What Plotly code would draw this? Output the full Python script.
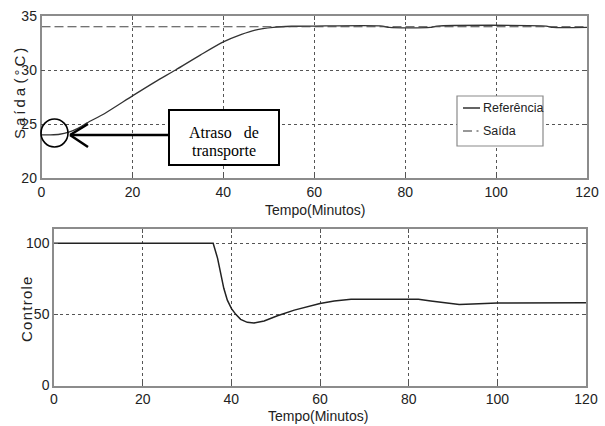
import plotly.graph_objects as go

# ---------------- data ----------------
tempo_sup = [0, 2, 4, 6, 8, 10, 14, 20, 25, 29.5, 35, 40, 44, 47, 51, 55, 60, 75, 76.5, 85.5, 87, 111, 112.5, 120]
curva_solida = [24.0, 24.0, 24.05, 24.25, 24.6, 25.1, 26.0, 27.6, 28.9, 30.0, 31.4, 32.6, 33.3, 33.7, 33.95,
                34.05, 34.07, 34.07, 33.94, 33.94, 34.07, 34.07, 33.94, 33.94]
tempo_trac = [0, 120]
curva_tracejada = [34, 34]

tempo_inf = [0, 35.9, 36.9, 37.6, 38.3, 39.1, 40, 41, 42.1, 43.6, 45.1, 47.4, 50.4, 54.2, 60, 63.2, 67,
             78.3, 82.2, 85, 88.8, 91.4, 94.4, 100, 120]
controle = [100, 100, 89.4, 77.7, 68.3, 60, 54.2, 50, 46.5, 44.4, 43.9, 45.3, 49, 53, 57.7, 59.4, 60.6,
            60.6, 60.6, 59.4, 57.7, 57.0, 57.3, 58.0, 58.2]

x_ticks = [0, 20, 40, 60, 80, 100, 120]
y_ticks_sup = [20, 25, 30, 35]
y_ticks_inf = [0, 50, 100]

nome_solida = "Referência"
nome_tracejada = "Saída"

# ---------------- figure ----------------
W, H = 605, 426
def px(x):
    return x / W
def py(y):
    return 1 - y / H

SANS = "Liberation Sans, Arial, sans-serif"
SERIF = "Liberation Serif, Times New Roman, serif"
TS = "\u2009"
HS = "\u200a"

fig = go.Figure()
fig.add_trace(go.Scatter(x=tempo_sup, y=curva_solida, mode="lines", name=nome_solida, showlegend=False,
                         line=dict(color="#333333", width=1.3, shape="spline", smoothing=0.7),
                         xaxis="x", yaxis="y"))
fig.add_trace(go.Scatter(x=tempo_trac, y=curva_tracejada, mode="lines", name=nome_tracejada, showlegend=False,
                         line=dict(color="#444444", width=1.1, dash="9px,4px"),
                         xaxis="x", yaxis="y"))
fig.add_trace(go.Scatter(x=tempo_inf, y=controle, mode="lines", showlegend=False,
                         line=dict(color="#222222", width=1.5),
                         xaxis="x2", yaxis="y2"))

axis_common = dict(showline=True, mirror="ticks", linecolor="#8c8c8c", linewidth=1.5,
                   showgrid=True, gridcolor="#555555", griddash="dot", gridwidth=1,
                   zeroline=False, ticks="inside", ticklen=4, tickcolor="#555555",
                   automargin=False,
                   tickfont=dict(family=SANS, size=14, color="#222222"))

fig.update_layout(
    width=W, height=H,
    margin=dict(l=0, r=0, t=0, b=0, autoexpand=False),
    paper_bgcolor="white", plot_bgcolor="white",
    xaxis=dict(domain=[px(41.5), px(587)], range=[0, 120], tickvals=x_ticks, anchor="y", **axis_common),
    yaxis=dict(domain=[py(178), py(16)], range=[20, 35], tickvals=y_ticks_sup, anchor="x", **axis_common),
    xaxis2=dict(domain=[px(54), px(586)], range=[0, 120], tickvals=x_ticks, anchor="y2", **axis_common),
    yaxis2=dict(domain=[py(385.5), py(229)], range=[0, 110], tickvals=y_ticks_inf, anchor="x2", **axis_common),
    showlegend=False,
)

ann = [
    dict(text="Tempo(Minutos)", x=px(315), y=py(210), size=14),
    dict(text="Tempo(Minutos)", x=px(318), y=py(416), size=14),
    dict(text=TS.join("Saída") + " " + TS.join("(°C)"), x=px(20), y=py(94), textangle=-90, size=15),
    dict(text=HS.join("Controle"), x=px(26.5), y=py(309.5), textangle=-90, size=15),
]
for a in ann:
    size = a.pop("size")
    fig.add_annotation(xref="paper", yref="paper", showarrow=False, xanchor="center", yanchor="middle",
                       font=dict(family=SANS, size=size, color="#222222"), **a)

# legend (drawn as a box with sample lines and real text labels)
legend_rows = [(nome_solida, 108, "solid"), (nome_tracejada, 131, "dash")]
fig.add_shape(type="rect", xref="paper", yref="paper", x0=px(457), x1=px(543), y0=py(146), y1=py(96),
              line=dict(color="#8a8a8a", width=1.2), fillcolor="white", layer="above")
for nome, yy, estilo in legend_rows:
    if estilo == "solid":
        fig.add_shape(type="line", xref="paper", yref="paper", x0=px(463), x1=px(480), y0=py(yy), y1=py(yy),
                      line=dict(color="#222222", width=1.4), layer="above")
    else:
        fig.add_shape(type="line", xref="paper", yref="paper", x0=px(463), x1=px(472), y0=py(yy), y1=py(yy),
                      line=dict(color="#444444", width=1.1), layer="above")
        fig.add_shape(type="line", xref="paper", yref="paper", x0=px(476.5), x1=px(478.5), y0=py(yy), y1=py(yy),
                      line=dict(color="#444444", width=1.1), layer="above")
    fig.add_annotation(text=nome, xref="paper", yref="paper", x=px(481), y=py(yy), xanchor="left",
                       yanchor="middle", showarrow=False, font=dict(family=SANS, size=12.5, color="#222222"))

# "Atraso de transporte" callout
fig.add_annotation(text="Atraso\u00a0\u00a0\u00a0de", xref="paper", yref="paper", x=px(224), y=py(132),
                   xanchor="center", yanchor="middle",
                   showarrow=False, font=dict(family=SERIF, size=16, color="black"))
fig.add_annotation(text="transporte", xref="paper", yref="paper", x=px(224), y=py(151),
                   xanchor="center", yanchor="middle",
                   showarrow=False, font=dict(family=SERIF, size=16, color="black"))

shapes = [
    dict(type="rect", x0=px(169), x1=px(279), y0=py(165), y1=py(110), line=dict(color="black", width=2),
         fillcolor="white"),
    dict(type="line", x0=px(169), x1=px(70), y0=py(135), y1=py(135), line=dict(color="black", width=2.5)),
    dict(type="line", x0=px(70), x1=px(88), y0=py(135), y1=py(124), line=dict(color="black", width=2.5)),
    dict(type="line", x0=px(70), x1=px(88), y0=py(135), y1=py(147), line=dict(color="black", width=2.5)),
    dict(type="circle", x0=px(41), x1=px(68), y0=py(147), y1=py(119), line=dict(color="black", width=1.6)),
]
for s in shapes:
    fig.add_shape(xref="paper", yref="paper", **s)

fig.write_html("out.html", config={"displayModeBar": False},
               post_script="document.body.style.margin='0';")
